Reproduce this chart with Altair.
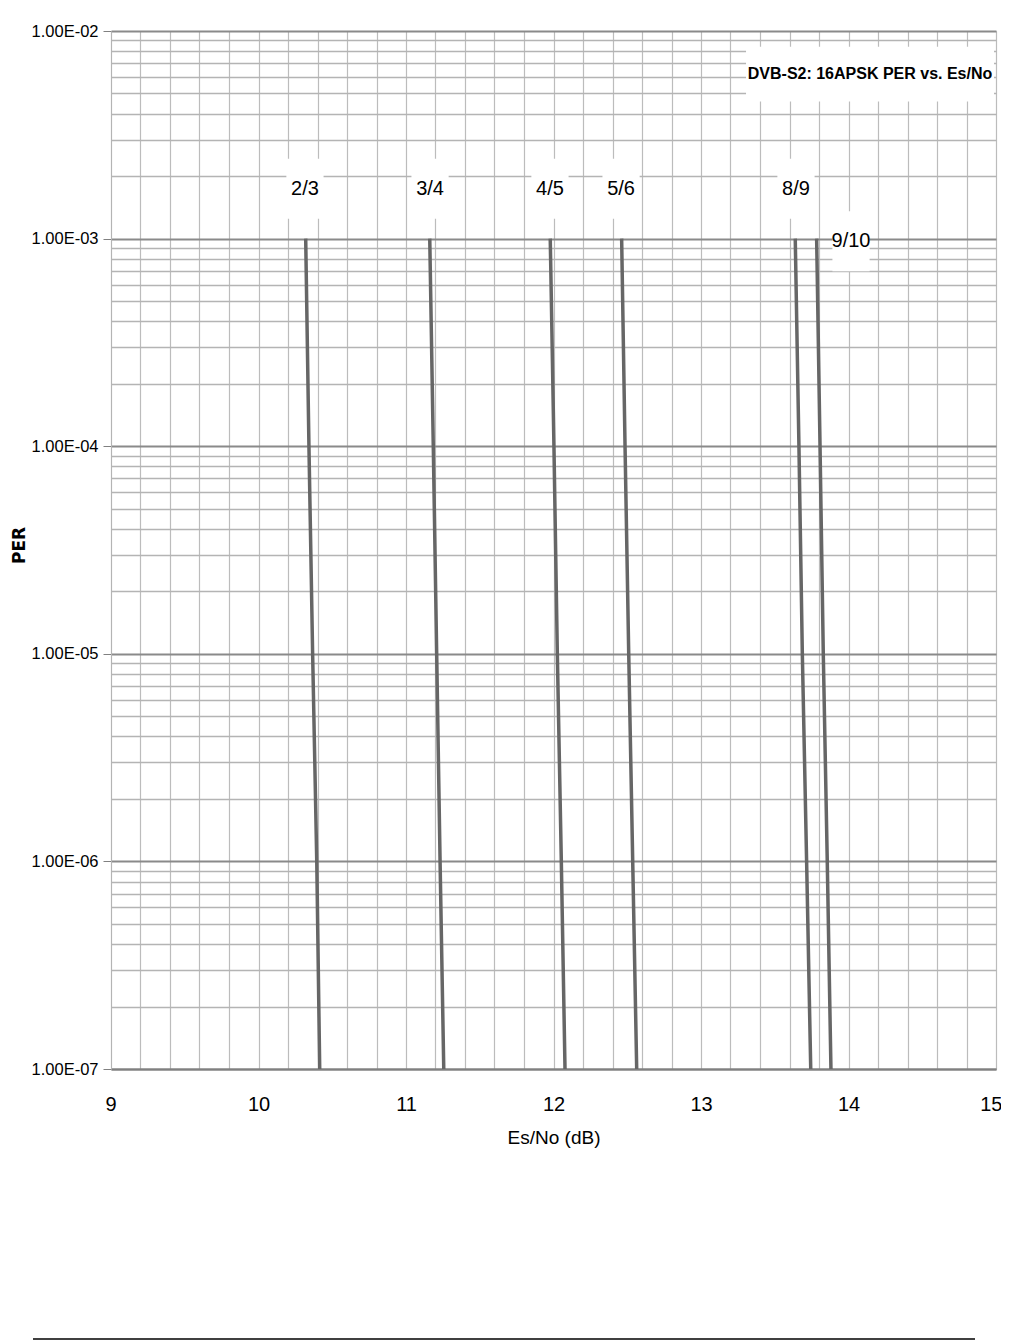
import altair as alt
import pandas as pd

# ---- data ----
rates = ["2/3", "3/4", "4/5", "5/6", "8/9", "9/10"]
per_levels = [1e-3, 1e-4, 1e-5, 1e-6, 1e-7]
esno = {
    "2/3": [10.320, 10.342, 10.367, 10.395, 10.415],
    "3/4": [11.161, 11.185, 11.208, 11.231, 11.256],
    "4/5": [11.978, 12.003, 12.026, 12.053, 12.078],
    "5/6": [12.462, 12.485, 12.510, 12.537, 12.564],
    "8/9": [13.639, 13.664, 13.687, 13.716, 13.744],
    "9/10": [13.784, 13.807, 13.829, 13.856, 13.881],
}
label_x = [10.315, 11.163, 11.976, 12.458, 13.644, 14.017]
label_y = [1.74e-3, 1.74e-3, 1.74e-3, 1.74e-3, 1.74e-3, 0.97e-3]
title_text = "DVB-S2: 16APSK PER vs. Es/No"
title_x = 14.146
title_y = 6.2e-3

x_labels = [9, 10, 11, 12, 13, 14, 15]
x_grid = [round(9 + 0.2 * i, 1) for i in range(31)]
y_ticks = [m * 10.0 ** e for e in range(-7, -2) for m in range(1, 10)] + [1e-2]

rows = []
for r in rates:
    for xv, yv in zip(esno[r], per_levels):
        rows.append({"rate": r, "esno": xv, "per": yv})
df = pd.DataFrame(rows)
lab = pd.DataFrame({"rate": rates, "x": label_x, "y": label_y})
ttl = pd.DataFrame({"t": [title_text], "x": [title_x], "y": [title_y]})

FONT = "Liberation Sans"
dec_test = "abs(log(datum.value)/LN10 - round(log(datum.value)/LN10)) < 0.001"

xscale = alt.Scale(domain=[9, 15], nice=False, zero=False)
yscale = alt.Scale(type="log", domain=[1e-7, 1e-2], nice=False)

# axis carrying the labels (bottom)
xaxis = alt.Axis(
    values=x_labels,
    format="d",
    labelOverlap=False,
    ticks=False,
    grid=False,
    domainColor="#808080",
    domainWidth=2,
    labelFont=FONT,
    labelFontSize=20,
    labelColor="#000000",
    labelPadding=25,
    labelFlush=True,
    labelFlushOffset=6,
    title="Es/No (dB)",
    titleFont=FONT,
    titleFontSize=19,
    titleFontWeight="normal",
    titleColor="#000000",
    titlePadding=14,
)
# axis carrying only the vertical grid lines
xgrid_axis = alt.Axis(
    orient="top",
    values=x_grid,
    labels=False,
    ticks=False,
    domain=False,
    grid=True,
    gridColor="#bcbcbc",
    gridWidth=1.2,
    title=None,
)
yaxis = alt.Axis(
    values=y_ticks,
    labelExpr=dec_test + " ? '1.00E-0' + format(-round(log(datum.value)/LN10), 'd') : ''",
    labelOverlap=False,
    grid=True,
    gridColor={"condition": {"test": dec_test, "value": "#8a8a8a"}, "value": "#b4b4b4"},
    gridWidth={"condition": {"test": dec_test, "value": 2}, "value": 1.5},
    ticks=True,
    tickSize=8,
    tickColor="#808080",
    tickOpacity={"condition": {"test": dec_test, "value": 1}, "value": 0},
    domainColor="#b4b4b4",
    labelFont=FONT,
    labelFontSize=16.5,
    labelColor="#000000",
    labelPadding=5,
    labelFlush=False,
    title="PER",
    titleFont="DejaVu Sans",
    titleFontSize=17,
    titleFontWeight="bold",
    titleColor="#000000",
    titleX=-92,
    titleY=514,
    titleAngle=270,
    titleAlign="center",
    titleBaseline="middle",
)

lines = alt.Chart(df).mark_line(color="#666666", strokeWidth=3.5).encode(
    x=alt.X("esno:Q", scale=xscale, axis=xaxis),
    y=alt.Y("per:Q", scale=yscale, axis=yaxis),
    detail="rate:N",
    order=alt.Order("per:Q", sort="descending"),
)

boxes = alt.Chart(lab).mark_point(
    shape="M-0.62,-1 L0.62,-1 L0.62,1 L-0.62,1 Z",
    filled=True, color="#ffffff", opacity=1, size=3600,
).encode(x=alt.X("x:Q", scale=xscale, axis=xgrid_axis), y=alt.Y("y:Q", scale=yscale))

texts = alt.Chart(lab).mark_text(
    font=FONT, fontSize=20, color="#000000"
).encode(x=alt.X("x:Q", scale=xscale, axis=None), y=alt.Y("y:Q", scale=yscale), text="rate:N")

tbox = alt.Chart(ttl).mark_point(
    shape="M-1,-0.22 L1,-0.22 L1,0.22 L-1,0.22 Z",
    filled=True, color="#ffffff", opacity=1, size=248 * 248,
).encode(x=alt.X("x:Q", scale=xscale, axis=None), y=alt.Y("y:Q", scale=yscale))

ttext = alt.Chart(ttl).mark_text(
    font=FONT, fontSize=16, fontWeight="bold", color="#000000"
).encode(x=alt.X("x:Q", scale=xscale, axis=None), y=alt.Y("y:Q", scale=yscale), text="t:N")

footer = alt.Chart(pd.DataFrame({"a": [0]})).mark_rule(color="#000000", strokeWidth=1.5).encode(
    x=alt.value(-78), x2=alt.value(864), y=alt.value(1308)
)

chart = alt.layer(lines, boxes, texts, tbox, ttext, footer).resolve_axis(
    x="independent"
).properties(
    width=885, height=1038,
    autosize=alt.AutoSizeParams(type="none"),
    padding={"left": 103, "top": 23, "right": 5, "bottom": 272},
).configure_view(stroke=None).configure(background="#ffffff")

chart.save("out.html", embed_options={"renderer": "svg", "actions": False})
